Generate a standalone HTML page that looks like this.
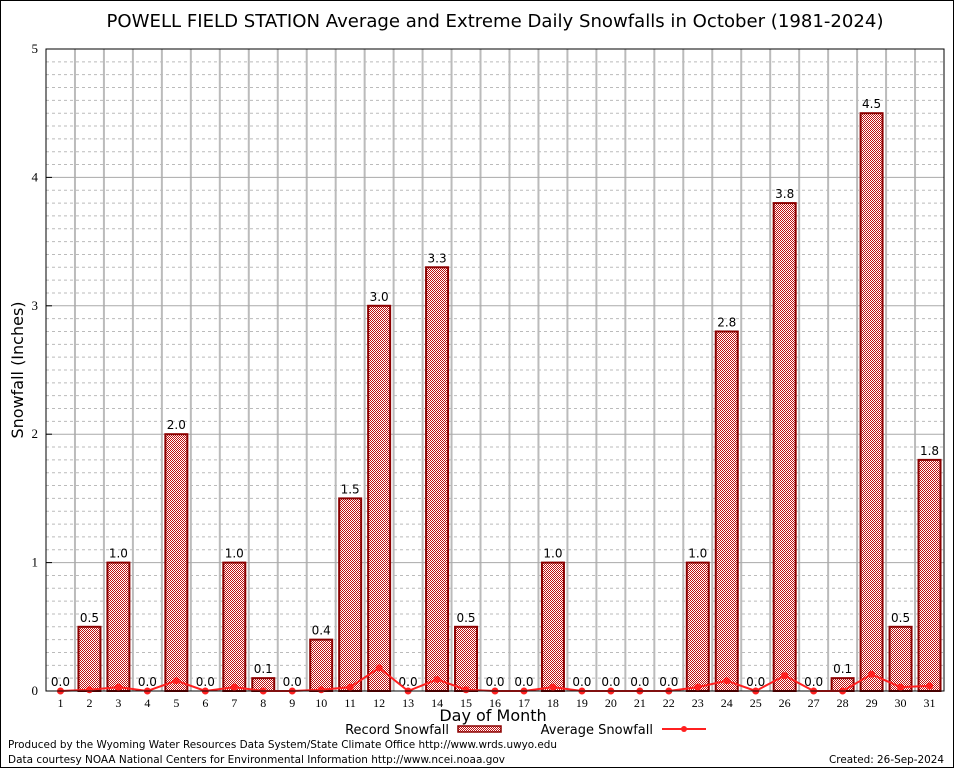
<!DOCTYPE html>
<html><head><meta charset="utf-8"><style>
body{margin:0;background:#fff}
svg{display:block;font-family:"Liberation Sans","DejaVu Sans",sans-serif}
</style></head><body>
<svg id="c" width="954" height="768" viewBox="0 0 954 768">
<defs>
<pattern id="chk" width="2" height="2" patternUnits="userSpaceOnUse">
<rect width="2" height="2" fill="#fff"/><rect width="1" height="1" fill="#c01010"/><rect x="1" y="1" width="1" height="1" fill="#c01010"/>
</pattern>
</defs>
<rect x="0.5" y="0.5" width="953" height="767" fill="#fff" stroke="#000"/>
<text x="495" y="27" font-size="18" text-anchor="middle" textLength="777" lengthAdjust="spacingAndGlyphs" font-family="DejaVu Sans, sans-serif">POWELL FIELD STATION Average and Extreme Daily Snowfalls in October (1981-2024)</text>
<g id="grid"></g>
<g id="bars"></g>
<g id="avg"></g>
<rect x="46" y="49" width="898" height="642" fill="none" stroke="#000"/>
<g id="axes"></g>
<text x="23" y="370" font-size="16" text-anchor="middle" transform="rotate(-90 23 370)" font-family="DejaVu Sans, sans-serif">Snowfall (Inches)</text>
<text x="493" y="721" font-size="16" text-anchor="middle" font-family="DejaVu Sans, sans-serif">Day of Month</text>
<g font-family="DejaVu Sans, sans-serif" font-size="13">
<text x="449" y="734" text-anchor="end">Record Snowfall</text>
<rect x="458" y="726" width="43" height="6" fill="url(#chk)" stroke="#8b0000" stroke-width="1.5"/>
<text x="653" y="734" text-anchor="end">Average Snowfall</text>
<line x1="662" y1="729" x2="706" y2="729" stroke="#ff2020" stroke-width="2"/>
<circle cx="684" cy="729" r="3" fill="#ff2020"/>
</g>
<g font-family="DejaVu Sans, sans-serif" font-size="11">
<text x="8" y="748" textLength="549" lengthAdjust="spacingAndGlyphs">Produced by the Wyoming Water Resources Data System/State Climate Office http://www.wrds.uwyo.edu</text>
<text x="8" y="763" textLength="497" lengthAdjust="spacingAndGlyphs">Data courtesy NOAA National Centers for Environmental Information http://www.ncei.noaa.gov</text>
<text x="944" y="763" text-anchor="end" textLength="115" lengthAdjust="spacingAndGlyphs">Created: 26-Sep-2024</text>
</g>
</svg>
<script>
const days=[1,2,3,4,5,6,7,8,9,10,11,12,13,14,15,16,17,18,19,20,21,22,23,24,25,26,27,28,29,30,31];
const recordSnow=[0,0.5,1.0,0,2.0,0,1.0,0.1,0,0.4,1.5,3.0,0,3.3,0.5,0,0,1.0,0,0,0,0,1.0,2.8,0,3.8,0,0.1,4.5,0.5,1.8];
const avgSnow=[0,0.01,0.03,0,0.08,0,0.03,0,0,0.01,0.03,0.18,0,0.09,0.01,0,0,0.03,0,0,0,0,0.03,0.08,0,0.12,0,0,0.13,0.03,0.04];
const yTicks=[0,1,2,3,4,5];
const NS="http://www.w3.org/2000/svg";
const X0=46,X1=944,Y0=691,Y1=49,YMAX=5;
const step=(X1-X0)/days.length;
const xs=d=>X0+step*(d-0.5);
const ys=v=>Y0-(v/YMAX)*(Y0-Y1);
function mk(p,t,a){const e=document.createElementNS(NS,t);for(const k in a)e.setAttribute(k,a[k]);document.getElementById(p).appendChild(e);return e;}
for(let i=1;i<YMAX*10;i++){
  if(i%10===0)continue;
  const l=mk('grid','line',{x1:X0,x2:X1,y1:ys(i/10),y2:ys(i/10),stroke:'#bbb','stroke-dasharray':'3,3','stroke-width':1});
  
  
}
for(let i=1;i<days.length;i++){
  const x=X0+step*i;
  const l=mk('grid','line',{x1:x,x2:x,y1:Y1,y2:Y0,stroke:'#bbb','stroke-width':2});
  
  
}
yTicks.forEach(v=>{
  if(v===0||v===YMAX)return;
  const l=mk('grid','line',{x1:X0,x2:X1,y1:ys(v),y2:ys(v),stroke:'#aaa','stroke-width':1});
  
  
});
const bw=22;
days.forEach((d,i)=>{
  const v=recordSnow[i];
  if(v>0){
    const r=mk('bars','rect',{x:xs(d)-bw/2,y:ys(v),width:bw,height:Y0-ys(v),fill:'url(#chk)',stroke:'#8b0000','stroke-width':2});
    
    
  }
  const t=mk('bars','text',{x:xs(d),y:ys(v)-5,'font-size':12,'text-anchor':'middle','font-family':'DejaVu Sans, sans-serif'});
  t.textContent=v.toFixed(1);
  
  
});
const pl=mk('avg','polyline',{points:days.map((d,i)=>xs(d)+','+ys(avgSnow[i])).join(' '),fill:'none',stroke:'#ff2020','stroke-width':2});


days.forEach((d,i)=>{
  const c=mk('avg','circle',{cx:xs(d),cy:ys(avgSnow[i]),r:3.5,fill:'#ff2020'});
  
  
});
yTicks.forEach(v=>{
  const t=mk('axes','text',{x:38,y:ys(v)+4,'font-size':13,'text-anchor':'end','font-family':'Liberation Serif, serif'});
  t.textContent=v;
  
  
  const l=mk('axes','line',{x1:X0,x2:X0+6,y1:ys(v),y2:ys(v),stroke:'#000'});
  
  
});
days.forEach(d=>{
  const t=mk('axes','text',{x:xs(d),y:707,'font-size':12,'text-anchor':'middle','font-family':'Liberation Serif, serif'});
  t.textContent=d;
  
  
});
</script>
</body></html>
